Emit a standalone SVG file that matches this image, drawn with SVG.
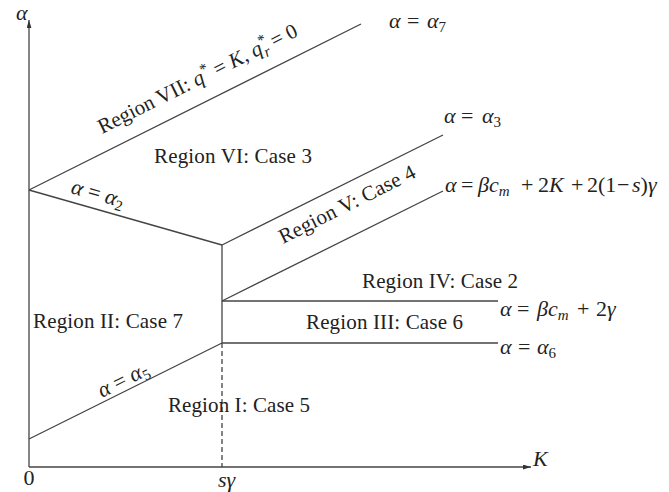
<svg xmlns="http://www.w3.org/2000/svg" width="669" height="492" viewBox="0 0 669 492">
<style>
  .ln { stroke: #444; stroke-width: 1.3; fill: none; }
  .dash { stroke-dasharray: 5 3; }
  text { font-family: "Liberation Serif", "DejaVu Serif", serif; fill: #222; }
  .rg { font-size: 21px; }
  .m { font-size: 22px; }
  .i { font-style: italic; }
  .sub { font-size: 15px; }
</style>
<defs>
  <marker id="arr" viewBox="0 0 10 6" refX="10" refY="3" markerWidth="8" markerHeight="5" markerUnits="userSpaceOnUse" orient="auto">
    <path d="M0,0 L10,3 L0,6 Z" fill="#333"/>
  </marker>
</defs>

<g id="connectors">
  <line class="ln" x1="29" y1="467" x2="29" y2="20" marker-end="url(#arr)"/>
  <line class="ln" x1="29" y1="467" x2="531" y2="467" marker-end="url(#arr)"/>
  <line class="ln" x1="29" y1="190" x2="361" y2="24"/>
  <line class="ln" x1="29" y1="190" x2="222" y2="245"/>
  <line class="ln" x1="222" y1="245" x2="222" y2="343"/>
  <line class="ln dash" x1="222" y1="343" x2="222" y2="467"/>
  <line class="ln" x1="222" y1="245" x2="443" y2="135"/>
  <line class="ln" x1="222" y1="301" x2="443" y2="191"/>
  <line class="ln" x1="222" y1="301" x2="498" y2="301"/>
  <line class="ln" x1="222" y1="343" x2="498" y2="343"/>
  <line class="ln" x1="29" y1="439" x2="222" y2="343"/>
</g>

<g id="axis-labels">
  <text class="m i" x="16" y="20" font-size="20">α</text>
  <text class="m i" x="533" y="466">K</text>
  <text class="m" x="29" y="485" text-anchor="middle" font-size="20">0</text>
  <text class="m i" x="218" y="487" font-size="21">sγ</text>
</g>

<g id="region-7">
  <text class="rg" transform="translate(102,134) rotate(-26.57)" font-size="21.5">Region VII: <tspan class="i">q</tspan><tspan class="sub" dy="-8">*</tspan><tspan dy="8"> = </tspan><tspan class="i">K</tspan>, <tspan class="i">q</tspan><tspan class="sub" dy="-8">*</tspan><tspan class="sub i" dx="-7" dy="13">r</tspan><tspan dy="-5"> = 0</tspan></text>
</g>
<g id="region-6"><text class="rg" x="154" y="163" textLength="158">Region VI: Case 3</text></g>
<g id="region-5"><text class="rg" transform="translate(283,244) rotate(-26.6)" textLength="150">Region V: Case 4</text></g>
<g id="region-4"><text class="rg" x="362" y="288" textLength="156">Region IV: Case 2</text></g>
<g id="region-3"><text class="rg" x="306" y="329" textLength="157">Region III: Case 6</text></g>
<g id="region-2"><text class="rg" x="33" y="328" textLength="150">Region II: Case 7</text></g>
<g id="region-1"><text class="rg" x="168" y="412" textLength="142">Region I: Case 5</text></g>

<g id="curve-labels">
  <text class="m"><tspan class="i" x="389" y="28">α</tspan><tspan x="407">=</tspan><tspan class="i" x="427">α</tspan><tspan class="sub" dy="4">7</tspan></text>
  <text class="m"><tspan class="i" x="444" y="123">α</tspan><tspan x="461">=</tspan><tspan class="i" x="482">α</tspan><tspan class="sub" dy="4">3</tspan></text>
  <text class="m"><tspan class="i" x="445" y="192">α</tspan><tspan x="461">=</tspan><tspan class="i" x="478">βc</tspan><tspan class="sub i" dy="4">m</tspan><tspan x="521" dy="-4">+</tspan><tspan x="538">2</tspan><tspan class="i">K</tspan><tspan x="571">+</tspan><tspan x="587">2(1</tspan><tspan x="617">−</tspan><tspan class="i" x="632">s</tspan><tspan>)</tspan><tspan class="i">γ</tspan></text>
  <text class="m"><tspan class="i" x="500" y="316">α</tspan><tspan x="517">=</tspan><tspan class="i" x="537">βc</tspan><tspan class="sub i" dy="4">m</tspan><tspan x="577" dy="-4">+</tspan><tspan x="596">2</tspan><tspan class="i">γ</tspan></text>
  <text class="m"><tspan class="i" x="500" y="354">α</tspan><tspan x="518">=</tspan><tspan class="i" x="537">α</tspan><tspan class="sub" dy="4">6</tspan></text>
  <text class="m" font-size="21" transform="translate(70,193) rotate(15.7)"><tspan class="i">α</tspan> = <tspan class="i">α</tspan><tspan class="sub" dy="4">2</tspan></text>
  <text class="m" font-size="21" transform="translate(102,398) rotate(-26.5)"><tspan class="i">α</tspan> = <tspan class="i">α</tspan><tspan class="sub" dy="4">5</tspan></text>
</g>
</svg>
